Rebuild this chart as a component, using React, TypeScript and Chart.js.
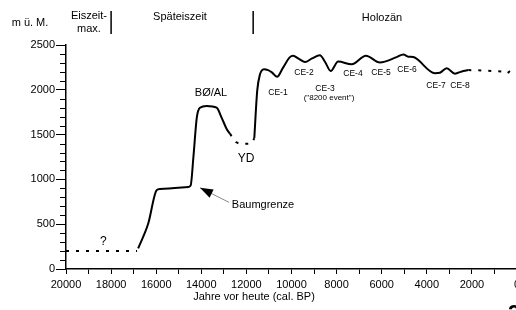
import React, { useEffect, useRef } from "react";
import { Chart, registerables } from "chart.js";
Chart.register(...registerables);

// Data (years cal. BP, altitude m a.s.l.)
const lgmYears = [20000, 16850];
const lgmAlt = [200, 200];
const lateGlacialYears = [16800, 16350, 15980, 15830, 14580, 14470, 14350, 14200, 14060, 13760, 13320, 13100, 12870, 12730];
const lateGlacialAlt = [230, 510, 880, 892, 914, 933, 1250, 1690, 1800, 1820, 1800, 1690, 1560, 1510];
const ydYears = [12730, 12460, 12060, 11770, 11650];
const ydAlt = [1510, 1415, 1397, 1403, 1460];
const holoYears = [11650, 11520, 11400, 11220, 11040, 10870, 10640, 10380, 10070, 9930, 9670, 9400, 9090, 8740, 8510, 8260, 7930, 7330, 6700, 6080, 5340, 5040, 4820, 4600, 3640, 3420, 3120, 2750, 2450, 2160];
const holoAlt = [1460, 1990, 2170, 2230, 2220, 2195, 2145, 2245, 2365, 2380, 2345, 2310, 2350, 2385, 2310, 2210, 2315, 2285, 2380, 2305, 2365, 2395, 2370, 2365, 2185, 2190, 2240, 2180, 2205, 2220];
const lateHoloYears = [2160, 1500, 1000, 610, 460, 310];
const lateHoloAlt = [2220, 2215, 2208, 2203, 2183, 2210];

const xTickValues = [20000, 19000, 18000, 17000, 16000, 15000, 14000, 13000, 12000, 11000, 10000, 9000, 8000, 7000, 6000, 5000, 4000, 3000, 2000, 1000, 0];
const yMinorTicks = [100, 200, 300, 400, 600, 700, 800, 900, 1100, 1200, 1300, 1400, 1600, 1700, 1800, 1900, 2100, 2200, 2300, 2400];

const periodBoundaries = [18000, 11700];

// Annotation labels in data coordinates: [text, year, altitude, font]
const annoLabels: [string, number, number, string][] = [
  ["BØ/AL", 13570, 1963, "11px"],
  ["YD", 12018, 1233, "12px"],
  ["CE-1", 10599, 1967, "8.5px"],
  ["CE-2", 9446, 2192, "8.5px"],
  ["CE-3", 8514, 2011, "8.5px"],
  ["(\"8200 event\")", 8337, 1911, "8px"],
  ["CE-4", 7273, 2178, "8.5px"],
  ["CE-5", 6031, 2192, "8.5px"],
  ["CE-6", 4878, 2222, "8.5px"],
  ["CE-7", 3592, 2044, "8.5px"],
  ["CE-8", 2528, 2044, "8.5px"],
  ["?", 18346, 303, "12px"],
  ["Baumgrenze", 11264, 711, "11px"],
];
const arrowTip = [14058, 906];
const arrowTail = [12772, 744];

const FONT = "'Liberation Sans', Arial, sans-serif";

function pts(xs: number[], ys: number[]) {
  return xs.map((x, i) => ({ x, y: ys[i] }));
}

const overlay = {
  id: "overlay",
  afterDraw(chart: any) {
    const ctx = chart.ctx;
    const xs = chart.scales.x;
    const ys = chart.scales.y;
    ctx.save();
    ctx.fillStyle = "#000";
    ctx.strokeStyle = "#000";
    // minor y ticks
    ctx.lineWidth = 1;
    yMinorTicks.forEach((v) => {
      const py = Math.round(ys.getPixelForValue(v)) + 0.5;
      ctx.beginPath();
      ctx.moveTo(xs.left - 6, py);
      ctx.lineTo(xs.left, py);
      ctx.stroke();
    });
    // header
    ctx.textAlign = "center";
    ctx.textBaseline = "middle";
    ctx.font = "11px " + FONT;
    ctx.fillText("m ü. M.", 30, 23);
    ctx.fillText("Eiszeit-", 89, 16);
    ctx.fillText("max.", 89, 29);
    ctx.fillText("Späteiszeit", 180, 17);
    ctx.fillText("Holozän", 382, 18);
    ctx.lineWidth = 1.5;
    periodBoundaries.forEach((v) => {
      const px = xs.getPixelForValue(v);
      ctx.beginPath();
      ctx.moveTo(px, 11);
      ctx.lineTo(px, 34);
      ctx.stroke();
    });
    // axis title
    ctx.fillText("Jahre vor heute (cal. BP)", 254, 297);
    // annotations
    annoLabels.forEach(([t, x, y, f]) => {
      ctx.font = f + " " + FONT;
      ctx.fillText(t, xs.getPixelForValue(x), ys.getPixelForValue(y));
    });
    // arrow
    const tx = xs.getPixelForValue(arrowTip[0]);
    const ty = ys.getPixelForValue(arrowTip[1]);
    const sx = xs.getPixelForValue(arrowTail[0]);
    const sy = ys.getPixelForValue(arrowTail[1]);
    ctx.strokeStyle = "#888";
    ctx.lineWidth = 1;
    ctx.beginPath();
    ctx.moveTo(sx, sy);
    ctx.lineTo(tx, ty);
    ctx.stroke();
    const ang = Math.atan2(ty - sy, tx - sx);
    const L = 13, W = 4.5;
    const bx = tx - L * Math.cos(ang), by = ty - L * Math.sin(ang);
    ctx.fillStyle = "#000";
    ctx.beginPath();
    ctx.moveTo(tx, ty);
    ctx.lineTo(bx + W * Math.sin(ang), by - W * Math.cos(ang));
    ctx.lineTo(bx - W * Math.sin(ang), by + W * Math.cos(ang));
    ctx.closePath();
    ctx.fill();
    // cut-off figure number
    ctx.textAlign = "left";
    ctx.textBaseline = "alphabetic";
    ctx.font = "bold 22px " + FONT;
    ctx.fillText("2", 508, 320);
    ctx.restore();
  },
};

export default function App() {
  const ref = useRef<HTMLCanvasElement | null>(null);
  useEffect(() => {
    if (!ref.current) return;
    const solid = { borderColor: "#000", borderWidth: 2, pointRadius: 0, cubicInterpolationMode: "monotone" as const, fill: false };
    const dotted = { ...solid, borderDash: [3, 7] };
    const chart = new Chart(ref.current, {
      type: "line",
      data: {
        datasets: [
          { ...dotted, data: pts(lgmYears, lgmAlt) },
          { ...solid, data: pts(lateGlacialYears, lateGlacialAlt) },
          { ...dotted, data: pts(ydYears, ydAlt) },
          { ...solid, data: pts(holoYears, holoAlt) },
          { ...dotted, data: pts(lateHoloYears, lateHoloAlt) },
        ],
      },
      options: {
        animation: false,
        responsive: false,
        maintainAspectRatio: false,
        layout: { padding: { top: 45, right: 23, left: 0, bottom: 0 } },
        plugins: { legend: { display: false }, tooltip: { enabled: false } },
        scales: {
          x: {
            type: "linear",
            reverse: true,
            min: 0,
            max: 20000,
            afterBuildTicks: (s: any) => {
              s.ticks = xTickValues.map((v) => ({ value: v }));
            },
            afterFit: (s: any) => {
              s.height = 41;
            },
            ticks: {
              autoSkip: false,
              maxRotation: 0,
              padding: 4,
              color: "#000",
              font: { family: FONT, size: 11 },
              callback: (v: any) => (Number(v) % 2000 === 0 ? String(v) : ""),
            },
            grid: { drawOnChartArea: false, drawTicks: true, tickLength: 5, color: "#000" },
            border: { display: true, color: "#000", width: 1.5 },
          },
          y: {
            min: 0,
            max: 2500,
            afterFit: (s: any) => {
              s.width = 66;
            },
            ticks: {
              stepSize: 500,
              padding: 1,
              color: "#000",
              font: { family: FONT, size: 11 },
              callback: (v: any) => String(v),
            },
            grid: { drawOnChartArea: false, drawTicks: true, tickLength: 10, color: "#000" },
            border: { display: true, color: "#000", width: 1.5 },
          },
        },
      },
      plugins: [overlay],
    });
    return () => chart.destroy();
  }, []);
  return (
    <div style={{ position: "fixed", left: 0, top: 0, width: 516, height: 310, overflow: "hidden", background: "#fff" }}>
      <canvas ref={ref} width={540} height={310} style={{ display: "block", width: 540, height: 310 }} />
    </div>
  );
}
